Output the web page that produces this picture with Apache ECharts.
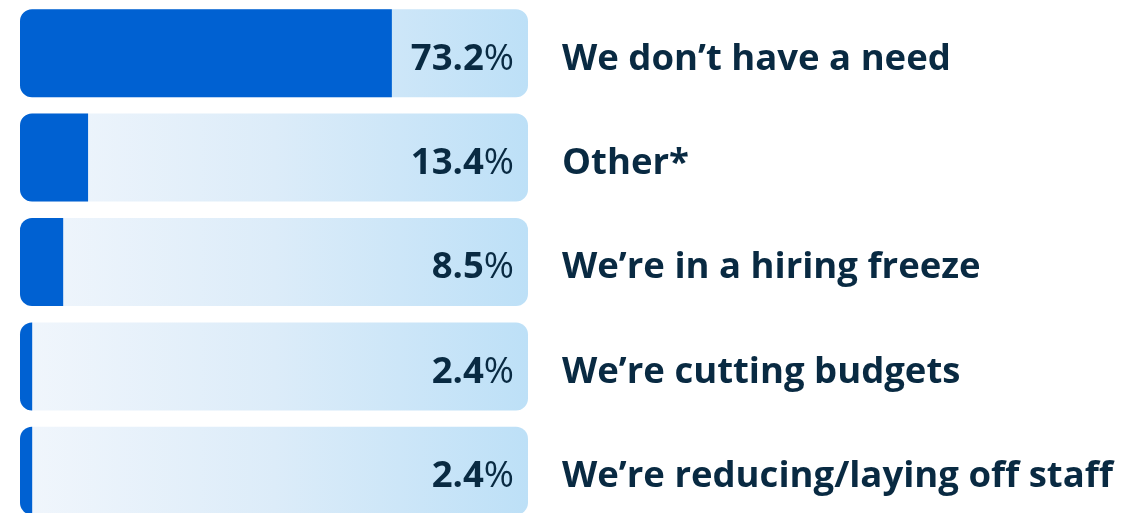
<!DOCTYPE html>
<html>
<head>
<meta charset="utf-8">
<script src="https://cdn.jsdelivr.net/npm/echarts@6/dist/echarts.min.js"></script>
<style>
  html, body { margin: 0; padding: 0; background: #fff; }
  #chart { width: 1145px; height: 513px; }
</style>
</head>
<body>
<div id="chart"></div>
<script>
// reasons given, top to bottom
const categories = [
  'We don\u2019t have a need',
  'Other*',
  'We\u2019re in a hiring freeze',
  'We\u2019re cutting budgets',
  'We\u2019re reducing/laying off staff'
]
const values = [73.2, 13.4, 8.5, 2.4, 2.4]
const fullTrack = categories.map(() => 100)

const textColor = '#092a42'
const chart = echarts.init(document.getElementById('chart'))

const option = {
  animation: false,
  grid: { left: 20, right: 617, top: 1, height: 522, outerBoundsMode: 'none' },
  xAxis: { type: 'value', min: 0, max: 100, show: false },
  yAxis: {
    type: 'category',
    data: categories,
    inverse: true,
    position: 'right',
    axisLine: { show: false },
    axisTick: { show: false },
    axisLabel: {
      margin: 34,
      align: 'left',
      formatter: v => '{c|' + v + '}',
      rich: {
        c: {
          padding: [12, 0, 0, 0],
          color: textColor,
          fontFamily: 'Open Sans',
          fontWeight: 'bold',
          fontSize: 36.5
        }
      }
    }
  },
  series: [
    {
      // light track behind each bar
      type: 'bar',
      data: fullTrack,
      barWidth: 88,
      barGap: '-100%',
      silent: true,
      itemStyle: {
        borderRadius: 12,
        color: new echarts.graphic.LinearGradient(0, 0, 1, 0, [
          { offset: 0, color: '#f1f6fc' },
          { offset: 0.5, color: '#dcecf9' },
          { offset: 1, color: '#bde0f7' }
        ])
      },
      label: {
        show: true,
        position: 'insideRight',
        distance: 14,
        offset: [0, 6],
        formatter: p => '{n|' + values[p.dataIndex].toFixed(1) + '}{p|%}',
        rich: {
          n: { color: textColor, fontFamily: 'Open Sans', fontWeight: 'bold', fontSize: 36.5 },
          p: { color: textColor, fontFamily: 'Open Sans', fontWeight: 'normal', fontSize: 36.5 }
        }
      },
      z: 1
    },
    {
      type: 'bar',
      data: values,
      barWidth: 88,
      barGap: '-100%',
      itemStyle: {
        color: '#0061d2',
        borderRadius: [12, 0, 0, 12]
      },
      z: 2
    }
  ]
}

chart.setOption(option)
</script>
</body>
</html>
